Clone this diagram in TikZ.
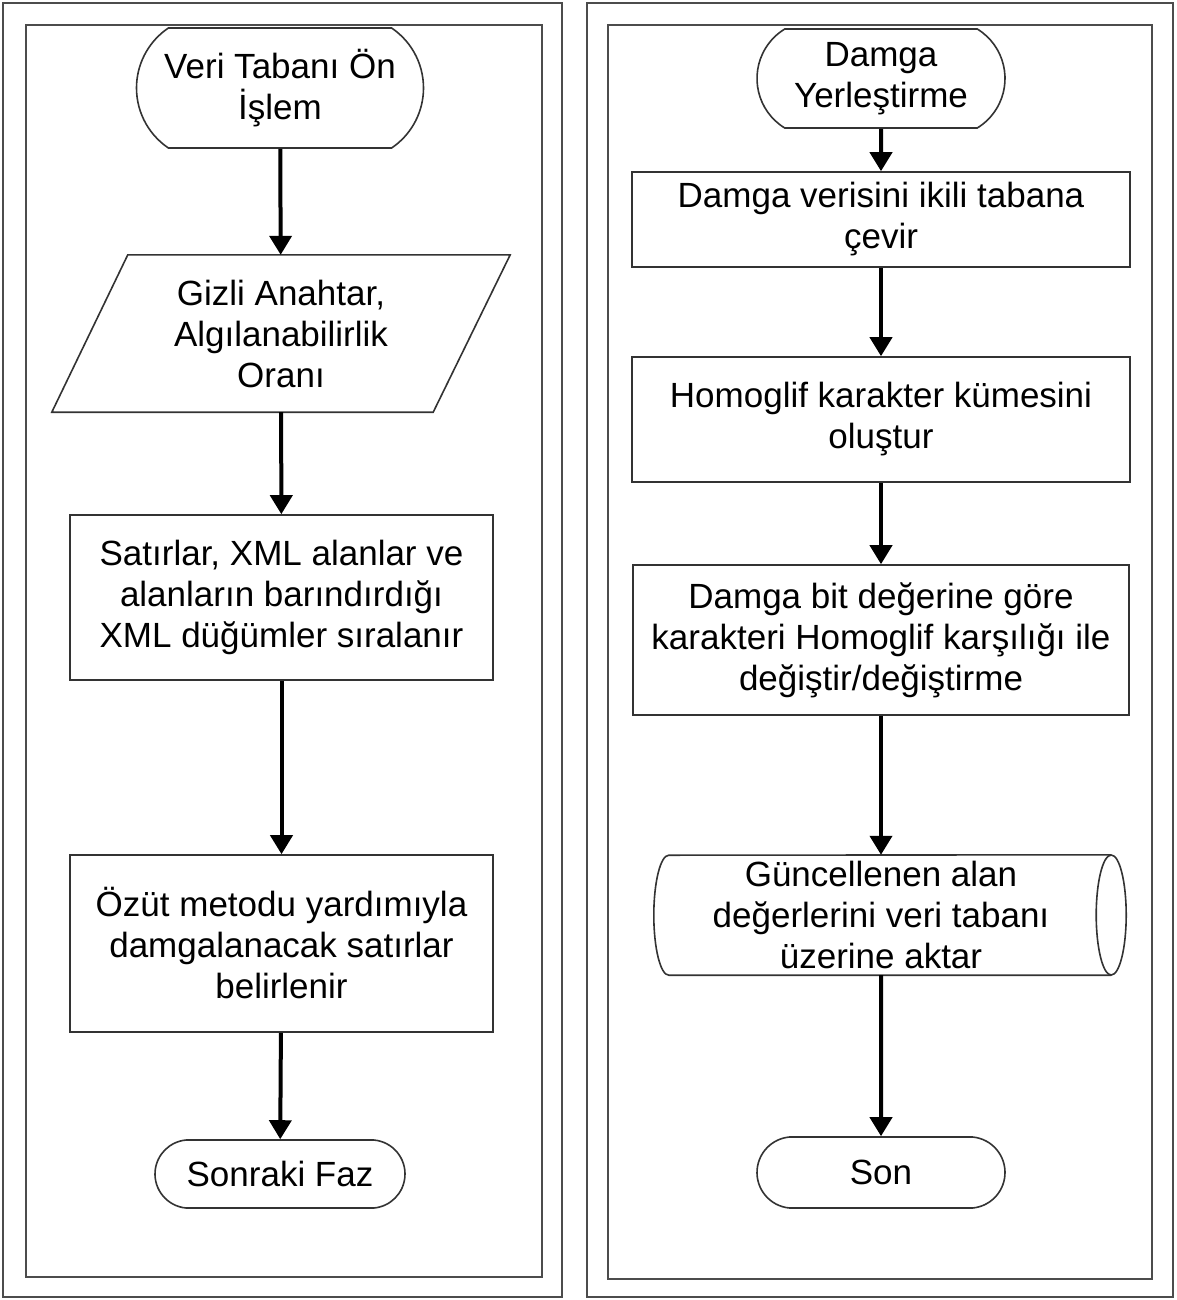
\documentclass[tikz,border=0pt]{standalone}
\usepackage{fontspec}
\setmainfont{Liberation Sans}
\usetikzlibrary{shapes.misc,arrows.meta,calc}
\begin{document}
\begin{tikzpicture}[x=1pt,y=-1pt,
  every node/.style={font=\fontsize{35}{41}\selectfont, align=center, inner sep=0pt},
  frame/.style={draw=black!70, line width=2pt},
  outline/.style={draw=black!80, line width=1.6pt},
  term/.style={rounded rectangle, outline, fill=white},
  proc/.style={rectangle, outline},
  plain/.style={rectangle, draw=none},
  flow/.style={line width=4pt, -{Triangle[length=19pt,width=22pt]}}
]
\useasboundingbox (0,0) rectangle (1176,1300);
\fill[white] (0,0) rectangle (1176,1300);

% panel frames
\draw[frame] (3,3) rectangle (562,1297);
\draw[frame] (26,25) rectangle (542,1277);
\draw[frame] (587,3) rectangle (1173,1297);
\draw[frame] (608,25) rectangle (1152,1279);

% left column: preprocessing phase
\node[term, minimum width=287pt, minimum height=120pt, rounded rectangle arc length=112] (pre) at (280,88) {Veri Tabanı Ön\\İşlem};
\node[plain, minimum width=458pt, minimum height=157pt] (key) at (281,333.5) {Gizli Anahtar,\\Algılanabilirlik\\Oranı};
\draw[outline] (key.south west) -- ($(key.south east)+(-77,0)$) -- (key.north east) -- ($(key.north west)+(76,0)$) -- cycle;
\node[proc, minimum width=423pt, minimum height=165pt] (sort) at (281.5,597.5) {Satırlar, XML alanlar ve\\alanların barındırdığı\\XML düğümler sıralanır};
\node[proc, minimum width=423pt, minimum height=177pt] (pick) at (281.5,943.5) {Özüt metodu yardımıyla\\damgalanacak satırlar\\belirlenir};
\node[term, minimum width=250pt, minimum height=68pt, rounded rectangle arc length=170] (next) at (280,1174) {Sonraki Faz};

\draw[flow] (pre) -- (key);
\draw[flow] (key) -- (sort);
\draw[flow] (sort) -- (pick);
\draw[flow] (pick) -- (next);

% right column: embedding phase
\node[term, minimum width=248pt, minimum height=99pt, rounded rectangle arc length=117] (emb) at (881,78.5) {Damga\\Yerleştirme};
\node[proc, minimum width=498pt, minimum height=95pt] (bin) at (881,219.5) {Damga verisini ikili tabana\\çevir};
\node[proc, minimum width=498pt, minimum height=125pt] (set) at (881,419.5) {Homoglif karakter kümesini\\oluştur};
\node[proc, minimum width=496pt, minimum height=150pt] (swap) at (881,640) {Damga bit değerine göre\\karakteri Homoglif karşılığı ile\\değiştir/değiştirme};
\node[plain, minimum width=490pt, minimum height=120pt] (store) at (881,915) {Güncellenen alan\\değerlerini veri tabanı\\üzerine aktar};
\draw[outline] ($(store.south east)+(-15,0)$) -- ($(store.south west)+(33,0)$)
  arc[start angle=90, end angle=270, x radius=15, y radius=60]
  -- ($(store.north east)+(-15,0)$);
\draw[outline] ($(store.east)+(-15,0)$) ellipse [x radius=15, y radius=60];
\node[term, minimum width=248pt, minimum height=71pt, rounded rectangle arc length=170] (fin) at (881,1172.5) {Son};

\draw[flow] (emb) -- (bin);
\draw[flow] (bin) -- (set);
\draw[flow] (set) -- (swap);
\draw[flow] (swap) -- (store);
\draw[flow] (store) -- (fin);
\end{tikzpicture}
\end{document}
